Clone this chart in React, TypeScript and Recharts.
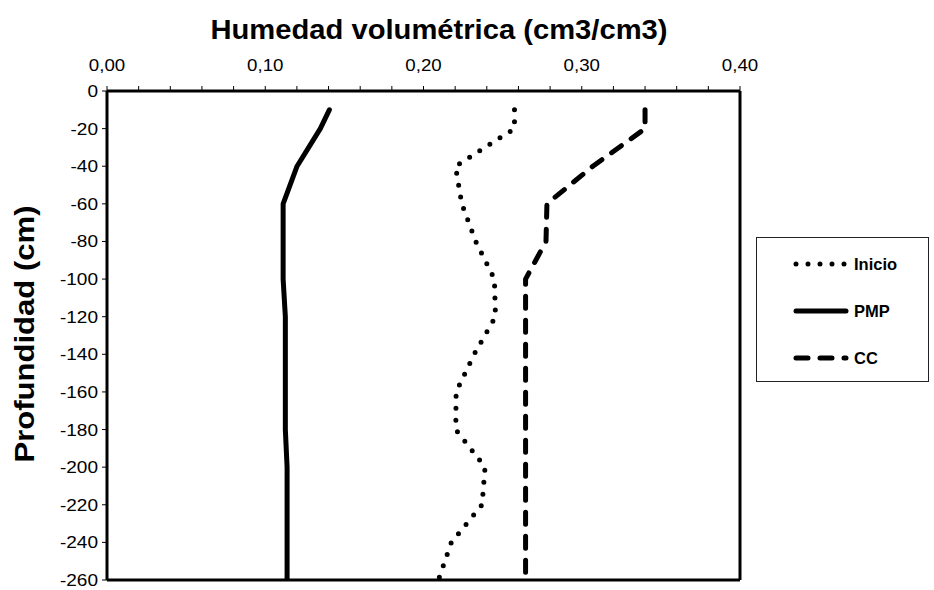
import React from 'react';
import { ScatterChart, Scatter, XAxis, YAxis, ReferenceLine } from 'recharts';

const depths = [-10, -20, -40, -60, -80, -100, -120, -140, -160, -180, -200, -220, -240, -260];
const inicio = [0.2575, 0.2575, 0.2202, 0.2242, 0.233, 0.2448, 0.2455, 0.232, 0.2206, 0.2204, 0.2389, 0.237, 0.2176, 0.2094];
const pmp = [0.1405, 0.1348, 0.1201, 0.1113, 0.1113, 0.1113, 0.1127, 0.1127, 0.1127, 0.1127, 0.1138, 0.1138, 0.1138, 0.1138];
const cc = [0.34, 0.34, 0.307, 0.278, 0.2774, 0.2645, 0.2645, 0.2645, 0.2645, 0.2645, 0.2645, 0.2645, 0.2645, 0.2645];

const xTicks = [0, 0.02, 0.04, 0.06, 0.08, 0.1, 0.12, 0.14, 0.16, 0.18, 0.2, 0.22, 0.24, 0.26, 0.28, 0.3, 0.32, 0.34, 0.36, 0.38, 0.4];
const yTicks = [0, -20, -40, -60, -80, -100, -120, -140, -160, -180, -200, -220, -240, -260];

const seriesNames = ['Inicio', 'PMP', 'CC'];
const FONT = 'Arial, "Liberation Sans", sans-serif';

const toPoints = (vals: number[]) => depths.map((d, i) => ({ x: vals[i], y: d }));

const lineStyles = [
  { strokeDasharray: '0 12', strokeWidth: 5 },
  { strokeDasharray: undefined, strokeWidth: 5 },
  { strokeDasharray: '12 12', strokeWidth: 5 },
];

const isMajor = (v: number) => Math.abs(v * 10 - Math.round(v * 10)) < 1e-6;

const XTick = (props: any) => {
  const { x, y, payload } = props;
  if (!isMajor(payload.value)) return <g />;
  return (
    <g transform={`translate(${x},${y - 13}) scale(1.1,1)`}>
      <text x={0} y={0} textAnchor="middle" fontFamily={FONT} fontSize={17} fill="#000">
        {payload.value.toFixed(2).replace('.', ',')}
      </text>
    </g>
  );
};

const YTick = (props: any) => {
  const { x, y, payload } = props;
  return (
    <g transform={`translate(${x - 2},${y + 6}) scale(1.12,1)`}>
      <text x={0} y={0} textAnchor="end" fontFamily={FONT} fontSize={17} fill="#000">
        {String(payload.value)}
      </text>
    </g>
  );
};

const hidden = () => <g />;

export default function App() {
  const datasets = [inicio, pmp, cc];
  return (
    <div style={{ position: 'absolute', left: 0, top: 0, width: 934, height: 590, background: '#fff', fontFamily: FONT }}>
      <ScatterChart width={934} height={590} margin={{ top: 61, right: 194, bottom: 10, left: 47 }}>
        <XAxis
          type="number"
          dataKey="x"
          orientation="top"
          domain={[0, 0.4]}
          ticks={xTicks}
          interval={0}
          height={30}
          axisLine={{ stroke: '#000', strokeWidth: 3 }}
          tickLine={{ stroke: '#000', strokeWidth: 1 }}
          tickSize={5}
          tick={<XTick />}
          allowDataOverflow
        />
        <YAxis
          type="number"
          dataKey="y"
          domain={[-260, 0]}
          ticks={yTicks}
          interval={0}
          width={60}
          axisLine={{ stroke: '#000', strokeWidth: 3 }}
          tickLine={{ stroke: '#000', strokeWidth: 1 }}
          tickSize={5}
          tick={<YTick />}
          allowDataOverflow
        />
        <ReferenceLine x={0.4} stroke="#000" strokeWidth={3} ifOverflow="extendDomain" />
        <ReferenceLine y={-260} stroke="#000" strokeWidth={3} ifOverflow="extendDomain" />
        {datasets.map((vals, i) => (
          <Scatter
            key={seriesNames[i]}
            name={seriesNames[i]}
            data={toPoints(vals)}
            fill="#000"
            shape={hidden}
            isAnimationActive={false}
            line={{
              stroke: '#000',
              strokeWidth: lineStyles[i].strokeWidth,
              strokeDasharray: lineStyles[i].strokeDasharray,
              strokeLinecap: 'round',
              strokeLinejoin: 'round',
            }}
            lineType="joint"
          />
        ))}
      </ScatterChart>

      <div
        style={{
          position: 'absolute',
          left: 439,
          top: 30,
          transform: 'translate(-50%, -50%) scaleX(1.08)',
          fontSize: 27,
          fontWeight: 'bold',
          whiteSpace: 'nowrap',
          color: '#000',
          lineHeight: 1,
        }}
      >
        Humedad volumétrica (cm3/cm3)
      </div>

      <div
        style={{
          position: 'absolute',
          left: 25,
          top: 334,
          transform: 'translate(-50%, -50%) rotate(-90deg) scaleX(1.15)',
          fontSize: 27,
          fontWeight: 'bold',
          whiteSpace: 'nowrap',
          color: '#000',
          lineHeight: 1,
        }}
      >
        Profundidad (cm)
      </div>

      <div
        style={{
          position: 'absolute',
          left: 756,
          top: 237,
          width: 173,
          height: 145,
          border: '1px solid #222',
          boxSizing: 'border-box',
          background: '#fff',
        }}
      >
        {seriesNames.map((name, i) => (
          <div
            key={name}
            style={{
              position: 'absolute',
              left: 35,
              top: 14 + i * 47,
              height: 24,
              display: 'flex',
              alignItems: 'center',
            }}
          >
            <svg width={58} height={12} style={{ display: 'block' }}>
              <line
                x1={4}
                y1={6}
                x2={54}
                y2={6}
                stroke="#000"
                strokeWidth={lineStyles[i].strokeWidth}
                strokeDasharray={lineStyles[i].strokeDasharray}
                strokeLinecap="round"
              />
            </svg>
            <span style={{ fontSize: 16.5, fontWeight: 'bold', marginLeft: 4, color: '#000' }}>{name}</span>
          </div>
        ))}
      </div>
    </div>
  );
}
